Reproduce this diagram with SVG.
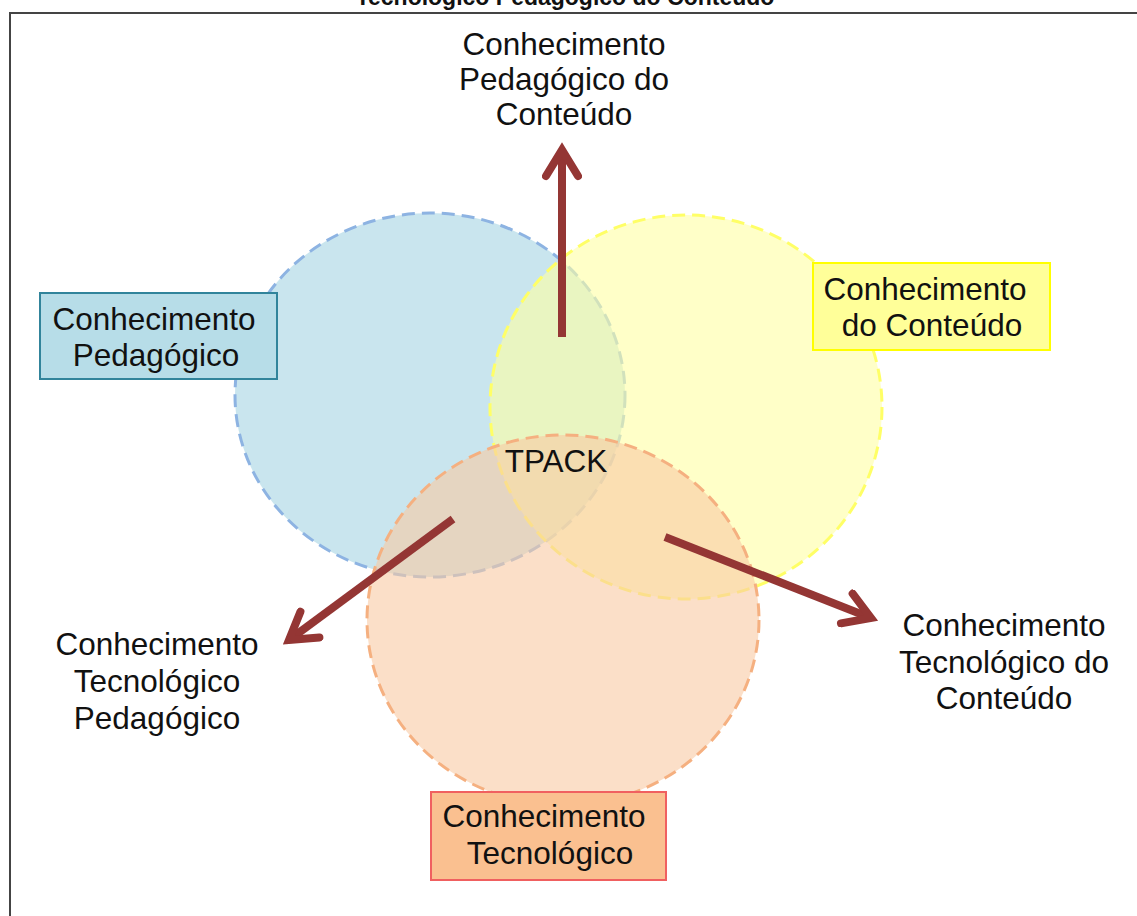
<svg xmlns="http://www.w3.org/2000/svg" width="1137" height="916" viewBox="0 0 1137 916">
<style>
text{font-family:"Liberation Sans",Arial,sans-serif;font-size:31.5px;fill:#111;text-anchor:middle}
.title{font-weight:bold;font-size:23px}
.circ{stroke-width:3;stroke-dasharray:13 7;fill-opacity:0.6}
.arr{stroke:#943634;stroke-width:8;fill:none;stroke-linecap:butt}
</style>
<defs>
<marker id="ah" viewBox="0 0 10 10" refX="8" refY="5" markerWidth="5" markerHeight="5" orient="auto" markerUnits="strokeWidth">
<path d="M1.5,1 L8,5 L1.5,9" fill="none" stroke="#943634" stroke-width="2" stroke-linecap="round" stroke-linejoin="miter"/>
</marker>
</defs>
<rect width="1137" height="916" fill="#fff"/>
<text class="title" x="565" y="5">Tecnológico Pedagógico do Conteúdo</text>
<path d="M10,916 V13 H1137" fill="none" stroke="#444" stroke-width="2"/>
<g id="circle-pedagogico"><ellipse class="circ" cx="430" cy="395" rx="195" ry="182" fill="#a5d4e3" stroke="#8db3e2"/></g>
<g id="circle-conteudo"><ellipse class="circ" cx="686" cy="407" rx="196" ry="192" fill="#ffffa3" stroke="#ffff66"/></g>
<g id="circle-tecnologico"><ellipse class="circ" cx="563" cy="620" rx="196" ry="185" fill="#f8caa3" stroke="#f5b080"/></g>
<g id="connectors">
<line class="arr" x1="562" y1="337" x2="562" y2="150" marker-end="url(#ah)"/>
<line class="arr" x1="453" y1="519" x2="289" y2="640" marker-end="url(#ah)"/>
<line class="arr" x1="665" y1="537" x2="871" y2="618" marker-end="url(#ah)"/>
</g>
<g id="box-pedagogico">
<rect x="40" y="293" width="237" height="86" fill="#b7dde8" stroke="#31849b" stroke-width="2"/>
<text x="154" y="330">Conhecimento</text>
<text x="156" y="366">Pedagógico</text>
</g>
<g id="box-conteudo">
<rect x="813" y="263" width="237" height="87" fill="#ffff99" stroke="#ffff00" stroke-width="2"/>
<text x="925" y="300">Conhecimento</text>
<text x="932" y="336">do Conteúdo</text>
</g>
<g id="box-tecnologico">
<rect x="431" y="792" width="235" height="88" fill="#fac090" stroke="#f06060" stroke-width="2"/>
<text x="544" y="827">Conhecimento</text>
<text x="550" y="864">Tecnológico</text>
</g>
<g id="tpack"><text x="556" y="472">TPACK</text></g>
<g id="label-pck">
<text x="564" y="55">Conhecimento</text>
<text x="564" y="90">Pedagógico do</text>
<text x="564" y="125">Conteúdo</text>
</g>
<g id="label-tpk">
<text x="157" y="655">Conhecimento</text>
<text x="157" y="692">Tecnológico</text>
<text x="157" y="729">Pedagógico</text>
</g>
<g id="label-tck">
<text x="1004" y="636">Conhecimento</text>
<text x="1004" y="673">Tecnológico do</text>
<text x="1004" y="709">Conteúdo</text>
</g>
</svg>
